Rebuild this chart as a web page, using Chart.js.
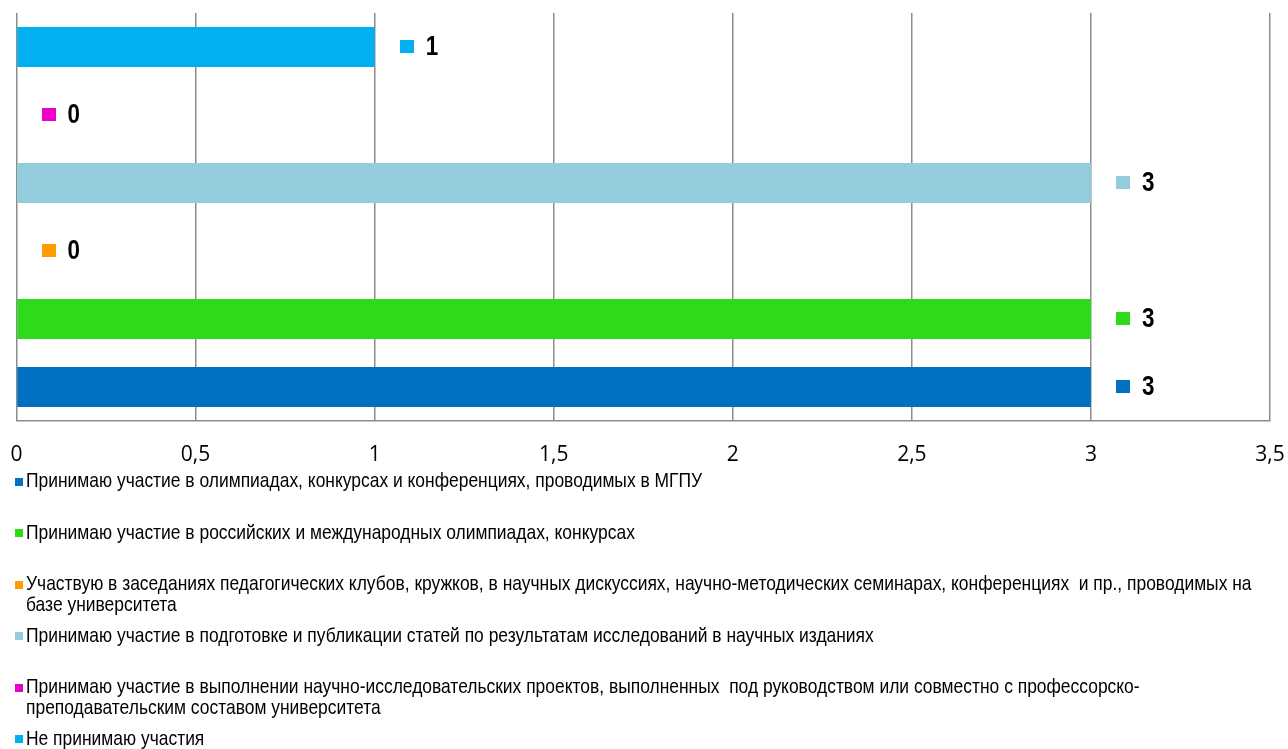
<!DOCTYPE html>
<html>
<head>
<meta charset="utf-8">
<script src="https://cdn.jsdelivr.net/npm/chart.js@4/dist/chart.umd.min.js"></script>
<style>
  html, body { margin: 0; padding: 0; background: #ffffff; overflow: hidden; }
  #wrap { width: 1288px; height: 749px; position: relative; }
</style>
</head>
<body>
<div id="wrap"><canvas id="c" width="1288" height="749"></canvas></div>
<script>
// Answer options (legend order); "\n" marks where a long label wraps
const seriesNames = [
  "Принимаю участие в олимпиадах, конкурсах и конференциях, проводимых в МГПУ",
  "Принимаю участие в российских и международных олимпиадах, конкурсах",
  "Участвую в заседаниях педагогических клубов, кружков, в научных дискуссиях, научно-методических семинарах, конференциях  и пр., проводимых на\nбазе университета",
  "Принимаю участие в подготовке и публикации статей по результатам исследований в научных изданиях",
  "Принимаю участие в выполнении научно-исследовательских проектов, выполненных  под руководством или совместно с профессорско-\nпреподавательским составом университета",
  "Не принимаю участия"
];
const seriesValues = [3, 3, 0, 3, 0, 1];
const seriesColors = ["#0070C0", "#2DDB1A", "#FF9A00", "#93CDDD", "#EE00CC", "#00B0F0"];
const categories = [""];
const axisMin = 0;
const axisMax = 3.5;
const axisStep = 0.5;

// Condensed sans: Liberation Sans squeezed horizontally
const SANS = '"Liberation Sans", Arial, sans-serif';
const SQUEEZE = 0.83;

function narrowText(ctx, text, x, y, font) {
  ctx.save();
  ctx.font = font;
  ctx.translate(x, y);
  ctx.scale(SQUEEZE, 1);
  ctx.fillText(text, 0, 0);
  ctx.restore();
}

// Bars are drawn top-down by dataset index, so the last option goes first
const order = seriesNames.map((_, i) => i).reverse();
const datasets = order.map(i => ({
  label: seriesNames[i],
  data: [seriesValues[i]],
  backgroundColor: seriesColors[i],
  borderWidth: 0,
  barPercentage: 0.585,
  categoryPercentage: 1.0
}));

// Value tag: coloured key square followed by the bold value, just past the bar end
const valueTags = {
  id: 'valueTags',
  afterDatasetsDraw(chart) {
    const ctx = chart.ctx;
    ctx.save();
    ctx.textBaseline = 'middle';
    ctx.textAlign = 'left';
    chart.data.datasets.forEach((ds, di) => {
      const el = chart.getDatasetMeta(di).data[0];
      if (!el) return;
      const x = el.x, y = el.y;
      ctx.fillStyle = ds.backgroundColor;
      ctx.fillRect(Math.round(x + 25), Math.round(y - 7), 14, 13);
      ctx.fillStyle = '#000000';
      narrowText(ctx, String(ds.data[0]), x + 51, y + 1, 'bold 27px ' + SANS);
    });
    ctx.restore();
  }
};

// Legend list under the axis, one entry per option, long entries on two lines
const legendList = {
  id: 'legendList',
  afterDraw(chart) {
    const ctx = chart.ctx;
    ctx.save();
    ctx.textBaseline = 'middle';
    ctx.textAlign = 'left';
    const firstY = 481.5;
    const step = 51.5;
    const lineH = 21;
    seriesNames.forEach((name, i) => {
      const y0 = firstY + i * step;
      ctx.fillStyle = seriesColors[i];
      ctx.fillRect(15, Math.round(y0 - 4), 8, 8);
      ctx.fillStyle = '#000000';
      name.split('\n').forEach((line, li) => {
        narrowText(ctx, line, 26, y0 + li * lineH, '21px ' + SANS);
      });
    });
    ctx.restore();
  }
};

new Chart(document.getElementById('c'), {
  type: 'bar',
  data: { labels: categories, datasets: datasets },
  plugins: [valueTags, legendList],
  options: {
    indexAxis: 'y',
    responsive: false,
    animation: false,
    devicePixelRatio: 1,
    layout: { padding: { left: 16.5, right: 18, top: 13, bottom: 0 } },
    plugins: {
      legend: { display: false },
      tooltip: { enabled: false }
    },
    scales: {
      x: {
        min: axisMin,
        max: axisMax,
        afterFit(scale) {
          scale.height = 328;
          scale.paddingLeft = 0;
          scale.paddingRight = 0;
        },
        ticks: {
          stepSize: axisStep,
          padding: 21,
          color: '#000000',
          font: { family: '"Open Sans", sans-serif', size: 21 },
          callback: v => String(v).replace('.', ',')
        },
        grid: { color: '#8c8c8c', lineWidth: 1.5, drawTicks: false },
        border: { display: true, color: '#8c8c8c', width: 1.5 }
      },
      y: {
        display: false,
        offset: true
      }
    }
  }
});
</script>
</body>
</html>
